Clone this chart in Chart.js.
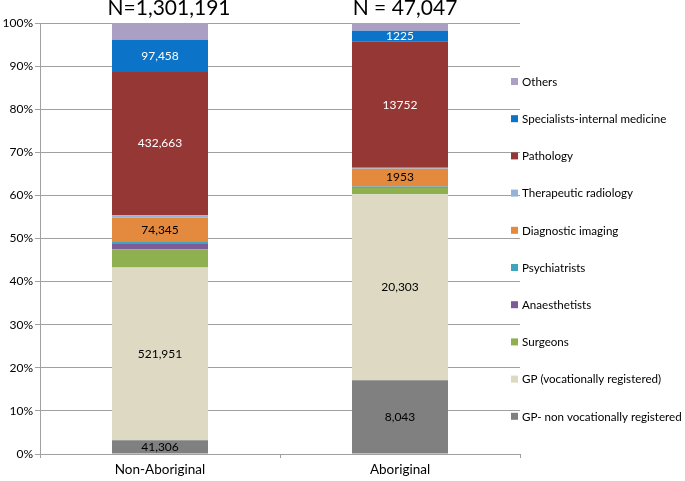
<!DOCTYPE html>
<html>
<head>
<meta charset="utf-8">
<script src="https://cdn.jsdelivr.net/npm/chart.js@4/dist/chart.umd.min.js"></script>
<style>
  html, body { margin: 0; padding: 0; background: #fff; }
  #wrap { width: 685px; height: 481px; position: relative; }
</style>
</head>
<body>
<div id="wrap"><canvas id="workforceChart"></canvas></div>
<script>
// Groups and totals
const groups = ['Non-Aboriginal', 'Aboriginal'];
const groupTotals = ['N=1,301,191', 'N = 47,047'];

// Series, bottom of the stack first (share of services, %)
const seriesNames = ['GP- non vocationally registered', 'GP (vocationally registered)', 'Surgeons', 'Anaesthetists',
    'Psychiatrists', 'Diagnostic imaging', 'Therapeutic radiology', 'Pathology', 'Specialists-internal medicine', 'Others'];
const seriesColors = ['#808080', '#ddd9c3', '#8fb04f', '#7b5c99', '#3fa4bd', '#e48a3e', '#95b3d7', '#953735', '#0b73c8', '#ab9fc4'];

const gpNonVr = [3.17, 17.10];
const gpVr = [40.11, 43.15];
const surgeons = [4.2, 1.5];
const anaesthetists = [1.4, 0.2];
const psychiatrists = [0.3, 0.1];
const diagnosticImaging = [5.71, 4.15];
const therapeuticRadiology = [0.5, 0.2];
const pathology = [33.25, 29.23];
const specialists = [7.49, 2.60];
const others = [3.87, 1.77];

// Printed counts inside the segments (null = no label)
const gpNonVrLabels = ['41,306', '8,043'];
const gpVrLabels = ['521,951', '20,303'];
const diagnosticLabels = ['74,345', '1953'];
const pathologyLabels = ['432,663', '13752'];
const specialistsLabels = ['97,458', '1225'];

const yTicks = [0, 10, 20, 30, 40, 50, 60, 70, 80, 90, 100];

const seriesValues = [gpNonVr, gpVr, surgeons, anaesthetists, psychiatrists, diagnosticImaging,
    therapeuticRadiology, pathology, specialists, others];
const seriesLabels = [gpNonVrLabels, gpVrLabels, null, null, null, diagnosticLabels, null,
    pathologyLabels, specialistsLabels, null];
const labelColors = ['#000', '#000', '#000', '#000', '#000', '#000', '#000', '#fff', '#fff', '#000'];

const FONT = 'Lato, "Open Sans", sans-serif';

const datasets = seriesNames.map((name, i) => ({
    label: name,
    data: seriesValues[i],
    backgroundColor: seriesColors[i],
    borderWidth: 0,
    barPercentage: 0.4,
    categoryPercentage: 1.0
}));

// Counts, group totals and the side legend
const extrasPlugin = {
    id: 'extras',
    afterDatasetsDraw(chart) {
        const ctx = chart.ctx;
        ctx.save();
        ctx.textAlign = 'center';
        ctx.textBaseline = 'middle';
        ctx.font = '12px ' + FONT;
        chart.data.datasets.forEach((ds, i) => {
            const labels = seriesLabels[i];
            if (!labels) return;
            chart.getDatasetMeta(i).data.forEach((bar, j) => {
                if (!labels[j]) return;
                const p = bar.getProps(['x', 'y', 'base'], true);
                ctx.fillStyle = labelColors[i];
                ctx.fillText(labels[j], p.x, (p.y + p.base) / 2);
            });
        });
        ctx.restore();
    },
    afterDraw(chart) {
        const ctx = chart.ctx;
        const x = chart.scales.x;
        ctx.save();
        // group totals above the bars
        ctx.font = '21px ' + FONT;
        ctx.fillStyle = '#000';
        ctx.textAlign = 'center';
        ctx.textBaseline = 'alphabetic';
        ctx.fillText(groupTotals[0], x.getPixelForValue(0) + 9, 15);
        ctx.fillText(groupTotals[1], x.getPixelForValue(1) + 5, 15);

        // legend, top of stack first
        ctx.font = '11.6px ' + FONT;
        ctx.textAlign = 'left';
        ctx.textBaseline = 'middle';
        for (let k = 0; k < seriesNames.length; k++) {
            const i = seriesNames.length - 1 - k;
            const cy = 82 + k * 37.2;
            ctx.fillStyle = seriesColors[i];
            ctx.fillRect(511, cy - 4, 7, 7);
            ctx.fillStyle = '#000';
            ctx.fillText(seriesNames[i], 522, cy);
        }
        ctx.restore();
    }
};

new Chart(document.getElementById('workforceChart').getContext('2d'), {
    type: 'bar',
    data: { labels: groups, datasets: datasets },
    options: {
        responsive: true,
        maintainAspectRatio: false,
        animation: false,
        layout: { padding: { top: 23, right: 165, bottom: 0, left: 0 } },
        plugins: {
            legend: { display: false },
            tooltip: { enabled: false }
        },
        scales: {
            x: {
                stacked: true,
                grid: { display: true, drawOnChartArea: false, drawTicks: true, tickLength: 4, offset: true, color: '#a0a0a0' },
                border: { color: '#a0a0a0', width: 1 },
                ticks: { color: '#000', font: { family: FONT, size: 13.5 }, padding: 4 },
                afterFit(scale) { scale.height = 27; }
            },
            y: {
                stacked: true,
                min: 0,
                max: 100,
                afterBuildTicks(scale) { scale.ticks = yTicks.map(v => ({ value: v })); },
                grid: { color: '#a0a0a0', lineWidth: 1, tickLength: 5 },
                border: { color: '#a0a0a0', width: 1 },
                ticks: {
                    color: '#000',
                    font: { family: FONT, size: 12 },
                    padding: 2,
                    callback: v => v + '%'
                },
                afterFit(scale) { scale.width = 40; }
            }
        }
    },
    plugins: [extrasPlugin]
});
</script>
</body>
</html>
